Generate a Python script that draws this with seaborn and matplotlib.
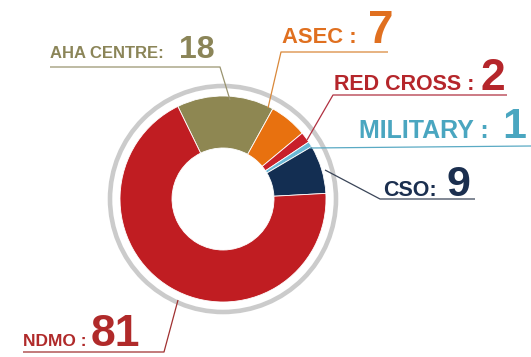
import matplotlib
matplotlib.use("Agg")
import matplotlib.pyplot as plt
from matplotlib.patches import Circle
import seaborn as sns

# ---- data ----
categories = ["AHA CENTRE", "ASEC", "RED CROSS", "MILITARY", "CSO", "NDMO"]
values = [18, 7, 2, 1, 9, 81]
label_texts = ["AHA CENTRE:", "ASEC :", "RED CROSS :", "MILITARY :", "CSO:", "NDMO :"]
slice_colors = ["#8e8752", "#e8710f", "#c8202a", "#6ab8d6", "#132e52", "#c01d22"]
text_colors = ["#8b8558", "#e07020", "#b5262b", "#4aa6c0", "#1b2f4f", "#b02a2a"]
line_colors = ["#9a9470", "#d9883a", "#b03040", "#5aaac4", "#3a4558", "#a03030"]

sns.set_theme(style="white")
plt.rcParams["font.family"] = ["Liberation Sans", "DejaVu Sans"]

W, H = 531, 357
fig = plt.figure(figsize=(W / 100, H / 100), dpi=100)
ax = fig.add_axes([0, 0, 1, 1])

def Y(y):
    return H - y

cx, cy = 223, 199
ax.pie(values, colors=slice_colors, startangle=116, counterclock=False,
       radius=103, center=(cx, Y(cy)),
       wedgeprops=dict(width=52, edgecolor="white", linewidth=0.6))
ax.add_patch(Circle((cx, Y(cy)), 113, fill=False, lw=3.3, ec="#cbcbcb"))

ax.set_xlim(0, W)
ax.set_ylim(0, H)
ax.set_aspect("auto")
ax.axis("off")

# layout per label: (small text x, baseline y, small size, number x, number size,
#                    polyline points in px)
layout = [
    (50, 58.5, 12.0, 179, 23, [(230, 100), (220, 67), (50, 67)]),
    (282, 43, 15.8, 368, 33, [(268, 108), (281, 52), (388, 52)]),
    (334, 90, 15.5, 481, 32, [(307, 140), (333, 95), (507, 95)]),
    (359, 138, 18.0, 502, 31, [(310, 148), (531, 146)]),
    (383, 196, 15.5, 447, 31, [(325, 170), (380, 199), (475, 199)]),
    (23, 346, 12.5, 91, 32, [(178, 300), (164, 352), (23, 352)]),
]

for lab, val, tc, lc, (tx, by, ts, nx, ns, pts) in zip(
        label_texts, values, text_colors, line_colors, layout):
    ax.text(tx, Y(by), lab, color=tc, fontsize=ts, fontweight="bold",
            ha="left", va="baseline")
    ax.text(nx, Y(by), str(val), color=tc, fontsize=ns, fontweight="bold",
            ha="left", va="baseline")
    xs = [p[0] for p in pts]
    ys = [Y(p[1]) for p in pts]
    ax.plot(xs, ys, color=lc, lw=0.9, solid_capstyle="butt")

fig.savefig("out.png", dpi=100, facecolor="white")
